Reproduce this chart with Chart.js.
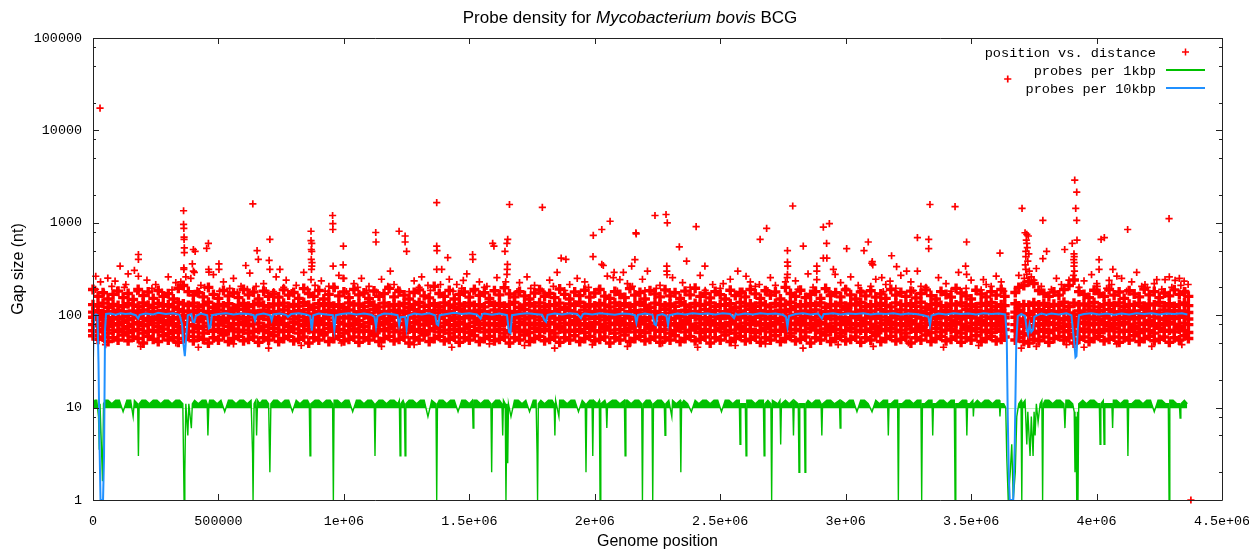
<!DOCTYPE html>
<html>
<head>
<meta charset="utf-8">
<title>Probe density</title>
<script src="https://cdn.jsdelivr.net/npm/chart.js@4.4.1/dist/chart.umd.min.js"></script>
<style>
  html, body { margin: 0; padding: 0; background: #fff; }
  #wrap { width: 1249px; height: 552px; }
</style>
</head>
<body>
<div id="wrap"><canvas id="myChart" width="1249" height="552"></canvas></div>
<script>
// ---- data (positions in kbp) ----

var xTickValues = [0, 500000, 1000000, 1500000, 2000000, 2500000, 3000000, 3500000, 4000000, 4500000];
var xTickLabels = ['0', '500000', '1e+06', '1.5e+06', '2e+06', '2.5e+06', '3e+06', '3.5e+06', '4e+06', '4.5e+06'];
var yTickValues = [1, 10, 100, 1000, 10000, 100000];
var yTickLabels = ['1', '10', '100', '1000', '10000', '100000'];
var yMinorTicks = [2, 5, 8, 20, 50, 80, 200, 500, 800, 2000, 5000, 8000, 20000, 50000, 80000];

var seriesNames = ['position vs. distance', 'probes per 1kbp', 'probes per 10kbp'];

// dense band of gaps: [position, gap, gap, ...]
var bandColumns = [
  [0,60,68,79,95,108,130,190],[20,55,66,77,90,112,126,160],[40,58,70,82,97,104,135,175],[60,52,64,76,88,110,122,150],
  [80,57,69,81,94,106,131,168],[100,54,67,78,91,113,127,182],[120,61,71,84,96,109,124,155],[140,53,65,75,89,102,133,172],
  [160,58,68,80,93,111,129,148],[180,56,70,83,98,107,125,190],[200,50,64,77,92,114,136,163],[220,59,67,79,87,105,128,178],
  [240,55,69,82,95,110,121,152],[260,52,66,76,90,103,134,185],[280,60,71,84,97,112,126,160],[300,54,63,78,88,108,130,171],
  [320,57,68,81,94,104,123,150],[340,51,65,75,91,115,137,196],[360,56,70,83,99,109,132,210],[380,59,67,79,93,111,127,180],
  [400,53,66,77,89,106,135,165],[420,58,72,85,96,113,124,175],[440,55,64,76,92,102,129,158],[460,50,69,82,98,110,138,200],
  [480,57,67,80,90,107,122,168],[500,54,70,78,95,114,131,152],[520,61,65,83,88,105,126,185],[540,52,68,76,93,109,133,162],
  [560,56,71,81,97,112,120,174],[580,59,66,79,91,103,128,155],[600,53,69,84,94,116,134,190],[620,55,64,77,89,108,125,166],
  [640,58,67,80,96,111,130,178],[660,51,70,82,92,104,136,150],[680,57,68,75,98,113,127,182],[700,54,65,78,90,107,123,160],
  [720,60,72,83,95,110,132,170],[740,52,66,79,87,105,129,157],[760,56,69,81,93,114,135,188],[780,59,67,76,99,102,124,165],
  [800,53,71,84,91,109,131,176],[820,55,64,80,96,112,126,152],[840,58,68,77,88,106,137,194],[860,50,70,82,94,115,128,172],
  [880,57,66,78,97,103,122,160],[900,54,69,83,90,110,133,185],[920,61,65,79,92,108,127,150],[940,52,72,81,98,113,134,168],
  [960,56,67,75,89,104,125,200],[980,59,70,84,95,111,130,162],[1000,53,64,80,93,107,121,178],[1020,55,68,77,96,114,136,155],
  [1040,58,71,82,91,102,129,190],[1060,51,66,79,87,109,132,166],[1080,57,69,76,99,112,124,174],[1100,54,67,83,94,105,138,152],
  [1120,60,65,81,90,116,128,183],[1140,52,70,78,97,108,123,160],[1160,56,68,84,92,110,135,171],[1180,59,72,80,88,103,126,195],
  [1200,53,66,77,95,113,131,158],[1220,55,69,82,98,107,127,180],[1240,58,64,79,91,111,134,165],[1260,50,71,76,93,104,122,150],
  [1280,57,67,83,96,115,130,176],[1300,54,70,80,89,109,137,188],[1320,61,65,78,94,102,125,162],[1340,52,68,84,90,112,128,154],
  [1360,56,72,81,97,106,133,205],[1380,59,66,75,92,114,124,172],[1400,53,69,82,99,108,136,160],[1420,55,64,79,88,110,129,185],
  [1440,58,70,77,95,103,121,150],[1460,51,67,83,91,116,132,168],[1480,57,71,80,94,107,126,178],[1500,54,65,76,98,111,135,157],
  [1520,60,68,84,93,105,127,190],[1540,52,72,79,89,113,130,164],[1560,56,66,82,96,109,123,175],[1580,59,69,78,92,102,138,152],
  [1600,53,67,81,97,114,128,184],[1620,55,70,77,90,108,134,166],[1640,58,64,83,95,112,125,198],[1660,50,68,80,88,104,131,170],
  [1680,57,71,76,93,110,137,158],[1700,54,66,84,99,106,122,180],[1720,61,69,79,91,115,129,162],[1740,52,65,82,94,103,133,150],
  [1760,56,72,78,96,111,126,174],[1780,59,67,81,89,107,136,188],[1800,53,70,77,92,113,124,160],[1820,55,68,83,98,105,130,172],
  [1840,58,64,80,93,109,127,155],[1860,51,71,76,90,116,135,192],[1880,57,66,82,95,102,121,168],[1900,54,69,79,97,112,132,150],
  [1920,60,67,84,88,108,128,178],[1940,52,70,78,94,104,138,163],[1960,56,65,81,91,114,125,186],[1980,59,72,77,99,110,131,157],
  [2000,53,68,83,92,106,126,174],[2020,55,66,80,96,113,134,190],[2040,58,71,76,89,103,129,161],[2060,50,69,82,94,111,123,152],
  [2080,57,64,79,97,107,136,180],[2100,54,70,84,90,115,127,168],[2120,61,67,78,93,102,133,155],[2140,52,72,81,98,109,124,194],
  [2160,56,66,77,91,112,130,165],[2180,59,68,83,95,105,137,176],[2200,53,65,80,88,114,128,150],[2220,55,71,76,94,108,122,184],
  [2240,58,69,82,99,110,135,170],[2260,51,67,79,92,104,131,158],[2280,57,70,84,96,116,126,188],[2300,54,64,78,90,106,132,162],
  [2320,60,68,81,93,111,125,175],[2340,52,72,77,97,103,138,152],[2360,56,66,83,89,113,129,182],[2380,59,69,80,95,107,123,166],
  [2400,53,71,76,98,110,134,196],[2420,55,65,82,91,104,127,160],[2440,58,70,79,94,115,131,172],[2460,50,67,84,88,108,136,154],
  [2480,57,68,78,96,112,124,180],[2500,54,72,81,92,102,130,167],[2520,61,66,77,99,109,128,150],[2540,52,69,83,93,114,133,186],
  [2560,56,64,80,90,106,122,163],[2580,59,71,76,97,111,137,176],[2600,53,67,82,94,103,126,158],[2620,55,70,79,89,116,132,190],
  [2640,58,65,84,95,107,125,170],[2660,51,68,78,98,112,135,152],[2680,57,72,81,91,105,129,184],[2700,54,66,77,96,110,123,165],
  [2720,60,69,83,92,104,134,178],[2740,52,67,80,88,113,127,150],[2760,56,71,76,95,108,131,200],[2780,59,64,82,99,115,138,172],
  [2800,53,70,79,93,102,124,160],[2820,55,68,84,90,109,130,186],[2840,58,66,78,97,111,126,155],[2860,50,72,81,94,106,133,168],
  [2880,57,69,77,89,114,128,180],[2900,54,65,83,96,103,136,152],[2920,61,71,80,92,110,122,194],[2940,52,67,76,98,107,131,163],
  [2960,56,70,82,91,112,127,175],[2980,59,64,79,95,105,135,158],[3000,53,68,84,88,116,125,188],[3020,55,72,78,94,108,132,166],
  [3040,58,66,81,97,104,129,150],[3060,51,69,77,90,113,137,178],[3080,57,67,83,93,109,124,162],[3100,54,71,80,99,111,130,184],
  [3120,60,65,76,92,102,126,157],[3140,52,70,82,96,115,134,170],[3160,56,68,79,89,107,128,152],[3180,59,72,84,94,110,123,190],
  [3200,53,66,78,98,106,136,165],[3220,55,69,81,91,114,131,176],[3240,58,64,77,95,103,127,160],[3260,50,71,83,88,112,133,182],
  [3280,57,67,80,97,108,125,154],[3300,54,70,76,93,111,138,172],[3320,61,68,82,90,105,122,188],[3340,52,65,79,96,116,130,163],
  [3360,56,72,84,92,109,135,150],[3380,59,66,78,99,104,127,180],[3400,53,69,81,94,113,124,168],[3420,55,71,77,89,107,132,157],
  [3440,58,67,83,97,110,129,195],[3460,51,64,80,91,102,136,174],[3480,57,70,76,95,115,126,162],[3500,54,68,82,98,108,131,150],
  [3520,60,72,79,93,112,123,186],[3540,52,66,84,88,105,134,170],[3560,56,69,78,96,110,128,158],[3580,59,65,81,92,114,137,180],
  [3600,53,71,77,97,106,125,165],[3620,55,67,83,90,111,130,190],[3634,58,70,80,94,103,127,160],[3676,54,68,79,95,108,133,176],
  [3690,57,66,82,91,113,126,200],[3710,52,63,76,88,104,130,210],[3730,50,61,74,86,101,128,230],[3750,55,64,77,92,110,136,220],
  [3770,53,67,81,97,115,129,185],[3790,58,70,78,90,107,134,172],[3810,51,65,83,94,112,125,160],[3830,56,69,79,98,104,131,178],
  [3850,59,72,82,92,110,127,165],[3870,54,66,76,89,113,138,190],[3890,57,68,80,95,106,124,210],[3910,50,62,75,88,102,135,240],
  [3930,55,67,81,93,111,129,180],[3950,58,71,84,97,105,132,168],[3970,52,66,78,91,114,126,155],[3990,56,69,82,96,108,137,186],
  [4010,59,65,79,90,112,123,172],[4030,53,70,83,98,103,130,160],[4050,55,68,77,93,115,134,190],[4070,58,72,81,89,109,127,165],
  [4090,51,66,78,95,106,136,178],[4110,57,69,84,92,113,124,152],[4130,54,67,80,97,107,131,184],[4150,60,71,76,91,111,128,170],
  [4170,52,65,82,94,104,135,158],[4190,56,70,79,99,116,125,192],[4210,59,68,83,88,108,132,166],[4230,53,64,77,96,110,129,180],
  [4250,55,72,81,93,105,137,155],[4270,58,67,78,90,114,126,174],[4290,51,69,84,97,109,133,162],[4310,57,66,80,92,112,124,188],
  [4330,54,71,76,95,103,130,168],[4350,60,68,82,98,111,136,178],[4366,56,65,79,91,107,127,160]
];

// single probes off the band: [position, gap]
var gapOutliers = [
  [28,17400],[3646,36000],[4376,1],
  [361,1350],[361,960],[362,870],[363,700],[363,660],[364,535],[364,475],[362,325],[362,313],
  [400,514],[407,490],[396,360],[400,300],[404,290],[460,600],[453,530],[461,313],[462,293],
  [181,454],[181,401],[108,340],[165,305],[181,264],[11,264],[59,252],[88,234],[131,215],
  [637,1600],[705,660],[654,500],[659,401],[702,392],[609,345],[705,313],[745,313],[502,360],[502,313],
  [869,810],[869,640],[870,514],[870,401],[871,313],[869,243],[872,600],[872,490],[873,370],[872,340],
  [955,1200],[956,980],[956,846],[998,560],[957,340],[997,350],[997,250],[1000,250],
  [1127,785],[1128,620],[1220,810],[1244,720],[1244,620],[1250,490],
  [1370,1650],[1370,560],[1371,500],[1370,313],[1390,313],[1414,420],[1476,238],[1513,454],[1514,401],
  [1593,600],[1598,560],[1642,490],[1653,660],[1650,600],[1652,354],[1651,313],[1650,276],[1660,1578],
  [1791,1470],[1866,415],[1885,401],
  [1994,730],[2028,846],[2061,1040],[1993,430],[2028,354],[2034,345],[2077,290],[2114,290],[2074,255],[2100,243],
  [2164,780],[2165,760],[2160,400],[2147,340],[2240,1200],[2284,1230],[2289,1000],[2287,340],[2287,300],[2288,274],
  [2337,550],[2366,385],[2404,910],[2439,340],[2512,220],[2603,264],[2656,215],[2659,660],[2685,870],
  [2768,500],[2768,375],[2769,340],[2768,276],[2767,255],[2789,1520],[2831,560],
  [2885,340],[2885,300],[2885,243],[2911,900],[2935,980],[2924,600],[2911,415],[2925,415],[2951,313],[2958,276],
  [3004,525],[3073,500],[3090,620],[3104,365],[3106,380],[3108,350],[3144,255],[3177,234],[3183,440],[3203,335],
  [3243,300],[3286,690],[3286,300],[3331,660],[3331,525],[3336,1578],[3436,1500],[3478,340],[3482,620],[3482,276],
  [3549,243],[3615,470],
  [3703,1430],[3715,780],[3722,750],[3728,720],[3722,600],[3718,490],[3718,430],[3726,385],[3718,313],[3722,276],
  [3720,650],[3724,540],[3730,460],[3716,350],[3712,250],[3732,300],[3786,1060],[3786,410],[3801,490],
  [3873,514],[3903,600],[3908,270],[3909,400],[3910,460],[3910,340],[3911,430],[3911,370],[3912,300],
  [3913,2900],[3917,1430],[3921,2150],[3921,1060],[3922,650],
  [4001,220],[4003,205],[4010,400],[4010,313],[4018,660],[4031,690],[4050,238],[4060,215],[4065,313],[4081,265],
  [4124,846],[4193,215],[4202,200],[4240,243],[4273,243],[4289,1110],[4313,238],[4336,210],[4349,234],
  [30,230],[75,205],[140,280],[215,240],[250,215],[300,260],[330,225],[390,250],[430,210],[480,275],
  [520,230],[560,250],[590,205],[625,285],[680,220],[730,260],[770,240],[810,210],[840,290],[910,235],
  [940,205],[980,270],[1040,220],[1070,250],[1100,205],[1150,245],[1185,300],[1200,215],[1280,235],[1310,260],
  [1335,210],[1420,245],[1450,215],[1490,280],[1540,230],[1570,205],[1610,255],[1700,225],[1730,260],[1760,210],
  [1820,240],[1850,290],[1900,215],[1930,250],[1960,230],[2050,265],[2130,220],[2190,245],[2210,300],[2260,210],
  [2310,255],[2350,225],[2420,270],[2470,215],[2540,245],[2570,300],[2620,230],[2700,255],[2720,210],[2800,235],
  [2850,280],[2980,225],[3020,260],[3050,210],[3120,245],[3160,215],[3220,270],[3260,230],[3300,205],[3370,255],
  [3400,220],[3450,290],[3500,240],[3560,215],[3600,265],[3620,230],[3690,270],[3750,240],[3760,320],[3840,250],
  [3860,215],[3950,235],[3980,275],[4100,250],[4140,230],[4160,290],[4230,220],[4290,260],[4330,250],[4365,215],
  [10,190],[45,175],[95,185],[125,200],[175,180],[235,195],[275,178],[315,188],[350,230],[370,260],
  [415,185],[445,200],[505,182],[545,195],[575,178],[615,190],[650,205],[690,185],[720,180],[760,200],
  [790,176],[855,190],[885,210],[925,182],[965,195],[1010,180],[1055,200],[1090,186],[1130,178],[1175,205],
  [1215,190],[1260,180],[1300,200],[1345,186],[1385,215],[1435,182],[1470,195],[1515,180],[1560,200],[1600,186],
  [1645,230],[1690,180],[1745,195],[1790,182],[1835,205],[1880,185],[1920,178],[1975,200],[2015,190],[2090,182],
  [2150,205],[2200,185],[2245,195],[2300,180],[2380,200],[2440,186],[2500,195],[2590,182],[2640,205],[2690,185],
  [2760,230],[2810,190],[2870,200],[2930,182],[3000,195],[3060,186],[3100,205],[3150,180],[3200,195],[3270,185],
  [3320,200],[3420,182],[3480,195],[3540,188],[3580,205],[3630,182],[3700,210],[3740,260],[3780,205],[3820,190],
  [3890,240],[3930,200],[4000,185],[4040,195],[4120,182],[4180,205],[4260,190],[4300,200],[4355,185],
  [50,48],[190,46],[330,50],[420,45],[560,49],[700,44],[830,47],[990,50],[1150,46],[1280,48],
  [1430,45],[1580,49],[1720,47],[1840,44],[1990,48],[2130,46],[2270,50],[2410,45],[2560,47],[2680,49],
  [2830,44],[2970,48],[3110,46],[3250,50],[3390,45],[3530,47],[3700,44],[3760,46],[3880,48],[3950,45],
  [4080,49],[4220,46],[4340,48]
];

// probes per 1kbp window: [position, count]
var probes1k = [
  [0,11],[8,12],[15,12],[22,8],[25,3.5],[28,11],[38,1.6],[42,11],[50,12],[60,12],[75,11],[90,12],[105,12],[120,9],[135,12],
  [150,12],[160,8],[165,12],[178,11],[181,3],[184,11],[195,12],[210,12],[225,11],[240,12],[255,12],[270,11],[285,12],
  [300,12],[315,11],[330,12],[345,12],[358,11],[363,1],[366,2],[370,11],[378,5],[382,11],[392,6],[396,11],[405,12],[420,11],[435,12],
  [450,12],[455,11],[458,5],[462,11],[465,12],[480,12],[495,11],[510,12],[525,9],[540,12],[555,12],[570,11],[585,12],
  [600,12],[615,11],[630,12],[636,3.2],[638,1],[642,11],[649,12],[652,5],[656,12],[665,11],[675,12],[690,12],[700,11],[705,2],[709,11],[720,12],[735,12],
  [750,11],[765,12],[780,12],[795,9],[810,12],[825,11],[840,12],[855,12],[862,11],[865,3],[868,11],[885,12],
  [900,12],[915,11],[930,12],[945,12],[955,11],[958,1],[961,12],[975,12],[990,11],[1005,12],[1020,12],[1035,9],
  [1050,12],[1065,12],[1080,11],[1095,12],[1110,12],[1121,11],[1124,3],[1127,11],[1140,12],[1155,12],[1170,11],[1185,12],
  [1200,12],[1215,11],[1221,12],[1224,3],[1227,11],[1236,12],[1241,11],[1244,3],[1247,11],[1260,12],[1275,12],[1290,11],[1305,12],[1320,12],[1335,8],
  [1350,12],[1367,11],[1370,1],[1373,11],[1380,12],[1395,12],[1410,11],[1425,12],[1440,12],[1455,9],[1470,12],[1485,12],
  [1500,11],[1512,12],[1515,6],[1518,12],[1530,12],[1545,11],[1560,12],[1575,12],[1586,11],[1589,2],[1592,11],[1605,12],[1620,12],[1630,11],[1633,5],[1636,12],
  [1643,11],[1646,1],[1650,11],[1653,2.5],[1656,11],[1666,8],[1680,12],[1695,12],[1710,11],[1725,12],[1740,9],[1755,12],[1766,12],[1770,3.2],[1772,1],[1775,11],[1785,12],
  [1800,11],[1815,12],[1830,12],[1838,11],[1841,5],[1844,12],[1857,8],[1860,12],[1875,12],[1890,11],[1905,12],[1920,12],[1935,9],
  [1950,12],[1962,11],[1965,2],[1968,11],[1980,12],[1989,12],[1992,3],[1995,12],[2010,11],[2018,12],[2020,2.5],[2021,1],[2024,11],[2040,12],[2045,11],[2048,6],[2051,11],[2070,12],[2085,12],
  [2100,11],[2118,12],[2121,3],[2124,12],[2130,12],[2145,11],[2160,12],[2175,12],[2187,11],[2190,1],[2193,11],[2205,12],[2220,12],[2228,11],[2231,1],[2234,11],
  [2250,12],[2265,12],[2277,11],[2280,5],[2283,11],[2295,12],[2307,8],[2310,12],[2325,11],[2340,12],[2343,2],[2346,11],[2355,12],[2370,11],[2385,9],
  [2400,12],[2415,11],[2430,12],[2445,12],[2460,11],[2475,12],[2490,12],[2505,9],[2520,12],[2535,12],
  [2550,11],[2565,12],[2576,12],[2579,4],[2582,11],[2600,11],[2603,3],[2606,12],[2625,12],[2640,11],[2655,12],[2672,12],[2675,3],[2678,11],[2690,12],
  [2702,11],[2705,1],[2708,12],[2730,11],[2738,12],[2741,4],[2744,11],[2760,12],[2775,11],[2789,12],[2792,5],[2795,12],[2811,11],[2814,2],[2817,11],[2835,11],[2838,2],[2841,11],
  [2850,12],[2865,11],[2880,12],[2895,12],[2902,11],[2905,5],[2908,11],[2925,12],[2940,12],[2955,11],[2975,12],[2978,6],[2981,12],
  [3000,11],[3015,12],[3030,12],[3045,9],[3060,12],[3075,12],[3090,11],[3105,9],[3120,12],[3135,11],
  [3150,12],[3167,12],[3170,5],[3173,11],[3180,11],[3195,12],[3207,12],[3210,1],[3213,11],[3225,11],[3240,12],[3255,12],[3270,11],[3285,12],
  [3300,12],[3303,1],[3306,11],[3315,11],[3330,12],[3344,12],[3347,5],[3350,11],[3360,11],[3375,12],[3390,12],[3405,11],[3420,12],[3433,12],[3436,1],[3439,11],
  [3450,11],[3465,12],[3480,12],[3483,5],[3486,11],[3495,11],[3507,12],[3509,8],[3512,11],[3525,12],[3540,11],[3555,12],[3570,12],[3585,11],
  [3600,12],[3612,12],[3615,8],[3618,11],[3630,11],[3638,10],[3642,3],[3648,1],[3656,2],[3662,4],[3668,1],[3676,2],[3682,8],[3690,11],[3699,12],[3702,1],[3705,11],
  [3715,12],[3722,4],[3726,9],[3735,3],[3740,8],[3747,3],[3751,9],[3755,5],[3760,11],[3767,7],[3775,11],[3782,12],[3785,1],[3788,11],[3795,12],[3810,12],[3825,11],[3840,12],[3855,12],
  [3870,11],[3874,6],[3878,12],[3890,12],[3905,11],[3911,9],[3914,2],[3918,8],[3921,1],[3924,9],[3926,1],[3929,11],[3945,12],[3960,11],[3975,12],[3990,12],[4005,11],
  [4011,11],[4014,4],[4017,11],[4027,12],[4030,4],[4033,11],[4050,11],[4061,11],[4064,6],[4067,12],[4080,12],[4095,11],[4110,12],[4122,12],[4125,3],[4128,11],[4140,11],[4155,12],
  [4170,12],[4185,11],[4200,12],[4215,12],[4230,9],[4245,12],[4260,12],[4275,11],[4286,11],[4289,1],[4292,12],[4305,12],
  [4320,11],[4330,11],[4333,7.7],[4336,11],[4350,12],[4362,11]
];

// probes per 10kbp window: [position, count]
var probes10k = [
  [0,33],[4,98],[12,102],[18,100],[22,30],[26,4],[30,1],[40,1],[44,3],[48,70],[52,103],[70,104],[90,101],[110,105],[130,103],
  [150,104],[170,100],[180,92],[186,101],[210,104],[240,102],[260,106],[290,103],[320,105],[345,101],[355,80],[360,50],[366,36],
  [372,60],[378,100],[392,103],[398,85],[404,84],[410,98],[430,104],[455,100],[462,72],[468,74],[474,100],[500,103],[530,105],
  [560,102],[590,104],[620,103],[640,100],[646,88],[652,101],[680,104],[706,100],[712,88],[718,102],[745,104],[770,101],[777,96],
  [790,103],[820,105],[850,102],[866,98],[872,68],[878,100],[900,104],[930,102],[956,100],[962,70],[968,100],[990,103],[1020,105],
  [1050,102],[1080,104],[1110,101],[1122,96],[1128,75],[1134,98],[1160,104],[1190,103],[1214,100],[1220,78],[1226,95],[1244,96],
  [1250,72],[1256,99],[1280,104],[1310,102],[1340,105],[1364,100],[1370,80],[1376,78],[1382,100],[1410,103],[1440,106],[1470,103],
  [1500,105],[1530,102],[1545,92],[1552,103],[1560,104],[1590,101],[1620,104],[1650,100],[1658,66],[1664,64],[1670,100],[1700,103],
  [1730,105],[1760,103],[1790,101],[1800,88],[1806,85],[1812,101],[1840,104],[1870,102],[1900,105],[1930,103],[1945,93],[1952,102],
  [1960,104],[1990,102],[2020,105],[2050,103],[2080,101],[2110,104],[2140,103],[2160,100],[2166,83],[2172,101],[2200,104],[2230,101],
  [2238,80],[2244,78],[2250,100],[2270,103],[2286,98],[2292,78],[2298,100],[2330,104],[2360,102],[2390,105],[2420,103],[2450,104],
  [2480,102],[2510,105],[2540,103],[2555,93],[2562,104],[2570,101],[2600,104],[2630,102],[2660,105],[2690,103],[2720,104],[2750,101],
  [2762,96],[2768,75],[2774,98],[2800,103],[2830,105],[2860,102],[2890,104],[2905,92],[2912,103],[2920,103],[2950,105],[2980,102],
  [3010,104],[3040,103],[3070,105],[3100,102],[3130,104],[3160,103],[3190,105],[3220,102],[3250,104],[3280,103],[3310,100],[3330,96],
  [3336,78],[3342,99],[3370,104],[3400,102],[3430,105],[3460,103],[3490,104],[3520,102],[3550,105],[3580,103],[3610,104],[3636,102],
  [3642,60],[3646,8],[3650,2],[3654,1],[3668,1],[3674,4],[3680,51],[3686,98],[3700,103],[3715,98],[3722,70],[3727,62],[3733,80],
  [3740,66],[3747,70],[3752,96],[3765,100],[3780,104],[3800,101],[3820,104],[3850,102],[3880,105],[3900,100],[3908,60],[3912,47],
  [3916,35],[3920,36],[3925,70],[3930,100],[3950,103],[3980,105],[4010,102],[4040,104],[4070,101],[4100,104],[4130,102],[4160,105],
  [4190,103],[4220,105],[4250,102],[4280,104],[4310,103],[4340,105],[4362,102]
];

// ---- build chart data ----

function toPoints(rows) {
  return rows.map(function (r) { return { x: r[0] * 1000, y: r[1] }; });
}

var gapPoints = [];
bandColumns.forEach(function (row) {
  for (var i = 1; i < row.length; i++) gapPoints.push({ x: row[0] * 1000, y: row[i] });
});
var bandCount = gapPoints.length;
gapOutliers.forEach(function (r) { gapPoints.push({ x: r[0] * 1000, y: r[1] }); });

var MONO = '"Liberation Mono", "DejaVu Sans Mono", monospace';
var SANS = '"Liberation Sans", Arial, sans-serif';

Chart.defaults.font.family = MONO;
Chart.defaults.color = '#000';

// gnuplot style frame with inward ticks on all four sides
var gnuFrame = {
  id: 'gnuFrame',
  afterDraw: function (chart) {
    var ctx = chart.ctx, a = chart.chartArea;
    var xs = chart.scales.x, ys = chart.scales.y;
    ctx.save();
    ctx.strokeStyle = '#222';
    ctx.lineWidth = 1;
    ctx.beginPath();
    ctx.rect(Math.round(a.left) + 0.5, Math.round(a.top) + 0.5, Math.round(a.right - a.left), Math.round(a.bottom - a.top));
    xTickValues.forEach(function (v) {
      var px = Math.round(xs.getPixelForValue(v)) + 0.5;
      ctx.moveTo(px, a.bottom); ctx.lineTo(px, a.bottom - 6);
      ctx.moveTo(px, a.top); ctx.lineTo(px, a.top + 6);
    });
    function yTick(v, len) {
      var py = Math.round(ys.getPixelForValue(v)) + 0.5;
      ctx.moveTo(a.left, py); ctx.lineTo(a.left + len, py);
      ctx.moveTo(a.right, py); ctx.lineTo(a.right - len, py);
    }
    yTickValues.forEach(function (v) { yTick(v, 6); });
    yMinorTicks.forEach(function (v) { yTick(v, 3); });
    ctx.stroke();
    ctx.restore();
  }
};

// title with the italic species name
var gnuTitle = {
  id: 'gnuTitle',
  afterDraw: function (chart) {
    var ctx = chart.ctx;
    var parts = [['Probe density for ', ''], ['Mycobacterium bovis', 'italic '], [' BCG', '']];
    ctx.save();
    ctx.fillStyle = '#000';
    ctx.textBaseline = 'middle';
    var total = 0;
    parts.forEach(function (p) { ctx.font = p[1] + '17px ' + SANS; total += ctx.measureText(p[0]).width; });
    var x = 630 - total / 2;
    parts.forEach(function (p) {
      ctx.font = p[1] + '17px ' + SANS;
      ctx.fillText(p[0], x, 18);
      x += ctx.measureText(p[0]).width;
    });
    ctx.restore();
  }
};

// key in the top right corner, text first then sample
var gnuKey = {
  id: 'gnuKey',
  afterDraw: function (chart) {
    var ctx = chart.ctx, a = chart.chartArea;
    var ds = chart.data.datasets;
    var textRight = a.right - 66, s0 = a.right - 56, s1 = a.right - 17;
    ctx.save();
    ctx.font = '13.6px ' + MONO;
    ctx.textAlign = 'right';
    ctx.textBaseline = 'middle';
    for (var i = 0; i < ds.length; i++) {
      var y = a.top + 14 + i * 18;
      ctx.fillStyle = '#000';
      ctx.fillText(ds[i].label, textRight, y + 1);
      ctx.strokeStyle = ds[i].borderColor;
      ctx.beginPath();
      if (i === 0) {
        var cx = (s0 + s1) / 2;
        ctx.lineWidth = 1.5;
        ctx.moveTo(cx - 3.5, y); ctx.lineTo(cx + 3.5, y);
        ctx.moveTo(cx, y - 3.5); ctx.lineTo(cx, y + 3.5);
      } else {
        ctx.lineWidth = 2;
        ctx.moveTo(s0, y); ctx.lineTo(s1, y);
      }
      ctx.stroke();
    }
    ctx.restore();
  }
};

var ctx = document.getElementById('myChart').getContext('2d');
var myChart = new Chart(ctx, {
  type: 'line',
  data: {
    datasets: [{
      label: seriesNames[0],
      data: gapPoints,
      showLine: false,
      borderColor: '#ff0000',
      backgroundColor: '#ff0000',
      pointStyle: 'cross',
      pointRadius: function (c) { return c.dataIndex < bandCount ? 5 : 3.6; },
      pointBorderWidth: function (c) { return c.dataIndex < bandCount ? 3.4 : 1.7; },
      pointBorderColor: '#ff0000',
      clip: false,
      order: 3
    }, {
      label: seriesNames[1],
      data: toPoints(probes1k),
      borderColor: '#00c000',
      borderWidth: 1.4,
      pointRadius: 0,
      tension: 0,
      // the 1kbp counts swing so fast that the band reads as solid
      fill: { target: { value: 9.8 }, above: '#00c000', below: 'rgba(0,0,0,0)' },
      order: 2
    }, {
      label: seriesNames[2],
      data: toPoints(probes10k),
      borderColor: '#2090ff',
      borderWidth: 2,
      pointRadius: 0,
      tension: 0,
      order: 1
    }]
  },
  options: {
    responsive: false,
    animation: false,
    devicePixelRatio: 1,
    layout: { padding: { top: 38, right: 27, left: 0, bottom: 0 } },
    plugins: {
      legend: { display: false },
      title: { display: false },
      tooltip: { enabled: false }
    },
    scales: {
      x: {
        type: 'linear',
        min: 0,
        max: 4500000,
        grid: { display: false, drawTicks: false },
        border: { display: false },
        afterBuildTicks: function (s) { s.ticks = xTickValues.map(function (v) { return { value: v }; }); },
        afterFit: function (s) { s.height = 52; s.paddingLeft = 0; s.paddingRight = 0; },
        ticks: {
          autoSkip: false,
          maxRotation: 0,
          padding: 13,
          font: { size: 13.4 },
          callback: function (v, i) { return xTickLabels[i]; }
        },
        title: {
          display: true,
          text: 'Genome position',
          font: { family: SANS, size: 16 },
          padding: { top: 0, bottom: 1 }
        }
      },
      y: {
        type: 'logarithmic',
        min: 1,
        max: 100000,
        grid: { display: false, drawTicks: false },
        border: { display: false },
        afterBuildTicks: function (s) { s.ticks = yTickValues.map(function (v) { return { value: v }; }); },
        afterFit: function (s) { s.width = 93; s.paddingTop = 0; s.paddingBottom = 0; },
        ticks: {
          autoSkip: false,
          padding: 11,
          font: { size: 13.4 },
          callback: function (v, i) { return yTickLabels[i]; }
        },
        title: {
          display: true,
          text: 'Gap size (nt)',
          font: { family: SANS, size: 16 },
          padding: { top: 9, bottom: 0 }
        }
      }
    }
  },
  plugins: [gnuFrame, gnuTitle, gnuKey]
});
</script>
</body>
</html>
